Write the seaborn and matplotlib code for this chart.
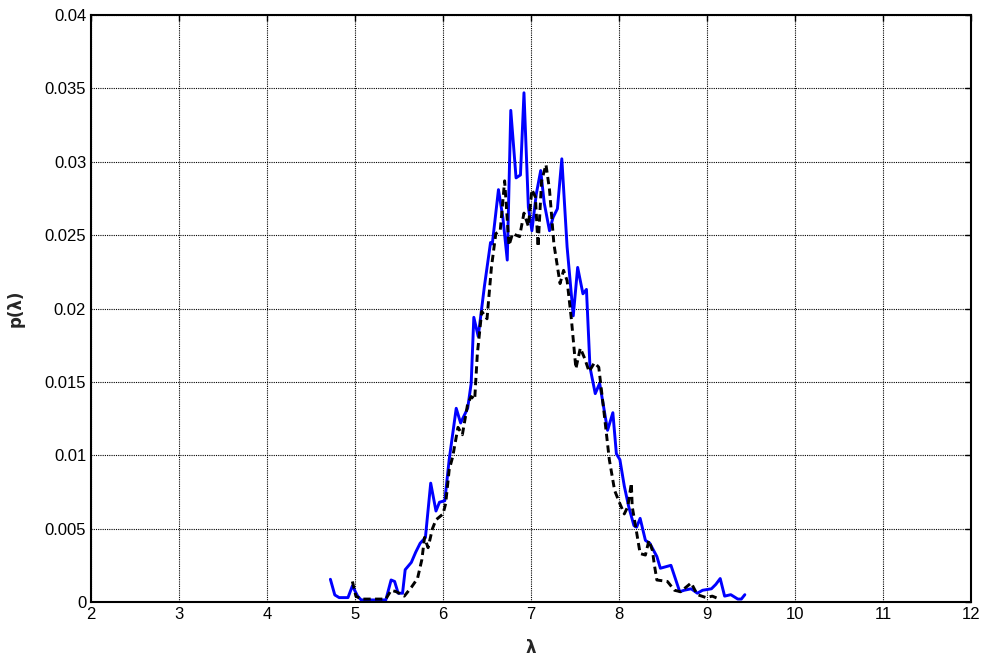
import matplotlib
matplotlib.use("Agg")
import matplotlib.pyplot as plt
import seaborn as sns
import pandas as pd

# blue solid curve
lam_blue = [4.72, 4.77, 4.82, 4.92, 4.97, 5.03, 5.07, 5.35, 5.41, 5.45, 5.49, 5.54,
            5.57, 5.64, 5.69, 5.74, 5.80, 5.86, 5.92, 5.96, 6.02, 6.07, 6.15, 6.20,
            6.28, 6.32, 6.35, 6.40, 6.47, 6.54, 6.56, 6.63, 6.68, 6.73, 6.77, 6.83,
            6.88, 6.92, 6.97, 7.01, 7.06, 7.11, 7.15, 7.21, 7.25, 7.30, 7.35, 7.41,
            7.48, 7.53, 7.59, 7.63, 7.67, 7.73, 7.78, 7.87, 7.93, 7.97, 8.01, 8.06,
            8.11, 8.17, 8.20, 8.24, 8.30, 8.35, 8.43, 8.47, 8.59, 8.69, 8.74, 8.82,
            8.89, 8.95, 9.05, 9.10, 9.15, 9.20, 9.27, 9.35, 9.39, 9.43]
p_blue = [0.00155, 0.00048, 0.0003, 0.0003, 0.0011, 0.0004, 0.00014, 0.00014, 0.0015, 0.0014, 0.0006, 0.0006,
          0.0022, 0.0027, 0.0034, 0.0040, 0.0044, 0.0081, 0.0062, 0.0068, 0.0069, 0.0097, 0.0132, 0.0122,
          0.0132, 0.0149, 0.0194, 0.0181, 0.0215, 0.0245, 0.0244, 0.0281, 0.0262, 0.0233, 0.0335, 0.0289,
          0.0291, 0.0347, 0.0269, 0.0253, 0.0278, 0.0294, 0.0272, 0.0253, 0.0262, 0.0268, 0.0302, 0.0242,
          0.0195, 0.0228, 0.0210, 0.0213, 0.0160, 0.0142, 0.0149, 0.0117, 0.0129, 0.0101, 0.0097, 0.0079,
          0.0065, 0.0052, 0.0051, 0.0057, 0.0042, 0.0040, 0.0031, 0.0023, 0.0025, 0.0007, 0.0008, 0.0009,
          0.0006, 0.0008, 0.0009, 0.0012, 0.0016, 0.0004, 0.0005, 0.0002, 0.0002, 0.0005]

# black dashed curve
lam_black = [4.97, 5.01, 5.07, 5.35, 5.41, 5.47, 5.56, 5.64, 5.71, 5.76, 5.79, 5.83,
             5.88, 5.92, 6.00, 6.03, 6.07, 6.11, 6.17, 6.22, 6.28, 6.32, 6.36, 6.39,
             6.44, 6.50, 6.55, 6.60, 6.65, 6.70, 6.75, 6.79, 6.87, 6.92, 6.97, 7.01,
             7.05, 7.08, 7.12, 7.17, 7.21, 7.26, 7.33, 7.37, 7.41, 7.46, 7.51, 7.56,
             7.61, 7.66, 7.72, 7.77, 7.83, 7.89, 7.95, 8.01, 8.06, 8.10, 8.14, 8.15,
             8.19, 8.24, 8.30, 8.34, 8.38, 8.40, 8.43, 8.55, 8.63, 8.70, 8.82, 8.89,
             8.99, 9.06, 9.14]
p_black = [0.0014, 0.0004, 0.0002, 0.0002, 0.0008, 0.0007, 0.0004, 0.0010, 0.0016, 0.0029, 0.0044, 0.0037,
           0.0050, 0.0056, 0.0060, 0.0067, 0.0090, 0.0099, 0.0119, 0.0114, 0.0135, 0.0140, 0.0138, 0.0169,
           0.0198, 0.0193, 0.0228, 0.0251, 0.0253, 0.0287, 0.0243, 0.0251, 0.0249, 0.0265, 0.0256, 0.0281,
           0.0276, 0.0242, 0.0287, 0.0298, 0.0281, 0.0244, 0.0217, 0.0226, 0.0219, 0.0192, 0.0159, 0.0173,
           0.0166, 0.0157, 0.0163, 0.0160, 0.0129, 0.0097, 0.0076, 0.0067, 0.0060, 0.0065, 0.0081, 0.0065,
           0.0051, 0.0033, 0.0032, 0.0042, 0.0035, 0.0026, 0.0015, 0.0014, 0.0008, 0.0007, 0.0013, 0.0005,
           0.0003, 0.0004, 0.0002]

x_ticks = list(range(2, 13))
y_ticks = [0, 0.005, 0.01, 0.015, 0.02, 0.025, 0.03, 0.035, 0.04]
y_ticklabels = ["0", "0.005", "0.01", "0.015", "0.02", "0.025", "0.03", "0.035", "0.04"]

df_blue = pd.DataFrame({"lam": lam_blue, "p": p_blue})
df_black = pd.DataFrame({"lam": lam_black, "p": p_black})

sns.set_style("white")
plt.rcParams["font.family"] = ["Liberation Sans", "DejaVu Sans"]

fig = plt.figure(figsize=(9.82, 6.58), dpi=100)
ax = fig.add_axes([0.0927, 0.0851, 0.8961, 0.8921])

sns.lineplot(data=df_blue, x="lam", y="p", sort=False, color="#0000ff", linewidth=2.1, ax=ax)
sns.lineplot(data=df_black, x="lam", y="p", sort=False, color="black", linewidth=2.1,
             linestyle=(0, (2.5, 1.5)), ax=ax)

ax.set_xlim(2, 12)
ax.set_ylim(0, 0.04)
ax.set_xticks(x_ticks)
ax.set_yticks(y_ticks)
ax.set_yticklabels(y_ticklabels)
ax.grid(True, color="black", linestyle=(0, (1, 1)), linewidth=0.8)
ax.tick_params(direction="in", length=4, top=True, right=True, labelsize=12, colors="black",
               width=1)
for s in ax.spines.values():
    s.set_visible(True)
    s.set_color("black")
    s.set_linewidth(1.5)

# axis labels
ax.set_xlabel("λ", fontsize=12, fontweight="bold", labelpad=12, family="DejaVu Sans")
ax.set_ylabel("p(λ)", fontsize=12, fontweight="bold", labelpad=14, family="DejaVu Sans")

fig.savefig("out.png", dpi=100)
